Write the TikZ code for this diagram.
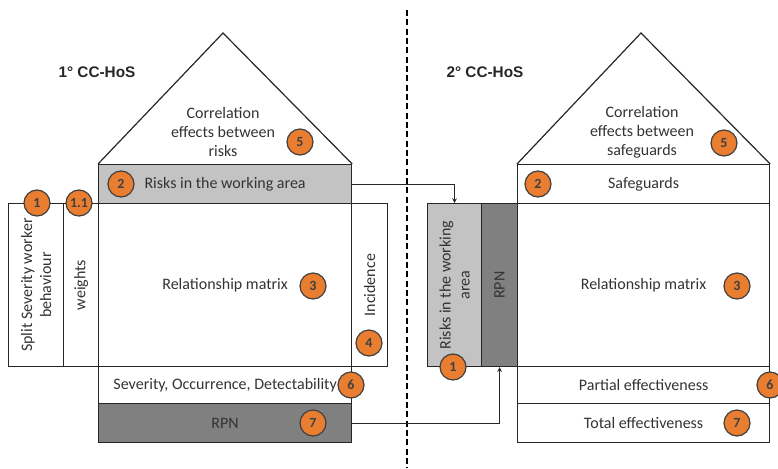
\documentclass[tikz,border=0pt]{standalone}
\usepackage{fontspec}
\setmainfont{Carlito}
\newfontfamily\titlefont{Liberation Sans}
\usepackage{tikz}
\usetikzlibrary{arrows,positioning}
\usetikzlibrary{calc}

\definecolor{riskgray}{RGB}{195,195,195}
\definecolor{rpngray}{RGB}{128,128,128}
\definecolor{badgeorange}{RGB}{233,125,48}

\begin{document}
\begin{tikzpicture}[x=0.75pt,y=-0.75pt,
  txt/.style={font=\fontsize{12}{14.3}\selectfont, text=black!80},
  cell/.style 2 args={draw=black!85, line width=0.9pt, inner sep=0pt, anchor=north west,
    minimum width=#1*0.75pt, minimum height=#2*0.75pt, txt},
  badge/.style={circle, draw=black!75, line width=0.9pt, fill=badgeorange, minimum size=19.5pt,
    inner sep=0pt, font=\fontsize{10.5}{12}\selectfont\bfseries, text=black!75},
  title/.style={font=\titlefont\fontsize{11.5}{13}\selectfont\bfseries, text=black!85}]
\useasboundingbox (0,0) rectangle (778,468);

\draw[dashed, dash pattern=on 4.5pt off 2.5pt, line width=0.9pt] (407,10) -- (407,468);

\node[cell={55}{163}] (split1) at (8,203) {};
\node[cell={35}{163}] (weights1) at (63,203) {};
\node[cell={253}{163}] (matrix1) at (98,203) {Relationship matrix};
\node[cell={36}{163}] (incid1) at (351,203) {};
\node[cell={253}{39}, fill=riskgray] (risks1) at (98,164) {Risks in the working area};
\node[cell={253}{37}] (sod1) at (98,366) {Severity, Occurrence, Detectability};
\node[cell={253}{39}, fill=rpngray] (rpn1) at (98,403) {RPN};
\coordinate (apex1) at (223,33);
\draw[line width=0.9pt, black!85] (risks1.north west) -- (apex1) -- (risks1.north east);
\node[txt, rotate=90, align=center] (splittext) at (split1.center) {Split Severity worker\\behaviour};
\node[txt, rotate=90] (weightstext) at (weights1.center) {weights};
\node[txt, rotate=90] (incidtext) at (incid1.center) {Incidence};
\node[txt, align=center] (corr1) at (223,132) {Correlation\\effects between\\risks};
\node[title] (title1) at (97,72) {1° CC-HoS};

\node[badge] (b1a) at (37,203) {1};
\node[badge] (b11) at (79,203) {1.1};
\node[badge] (b2a) at (121,184) {2};
\node[badge] (b5a) at (300,142) {5};
\node[badge] (b3a) at (313,286) {3};
\node[badge] (b4a) at (369,343) {4};
\node[badge] (b6a) at (351,385) {6};
\node[badge] (b7a) at (313,423) {7};

\node[cell={54}{163}, fill=riskgray] (riskcol2) at (427,203) {};
\node[cell={36}{163}, fill=rpngray] (rpncol2) at (481,203) {};
\node[cell={252}{163}] (matrix2) at (517,203) {Relationship matrix};
\node[cell={252}{39}] (safe2) at (517,164) {Safeguards};
\node[cell={252}{37}] (partial2) at (517,366) {Partial effectiveness};
\node[cell={252}{39}] (total2) at (517,403) {Total effectiveness};
\coordinate (apex2) at (641,33);
\draw[line width=0.9pt, black!85] (safe2.north west) -- (apex2) -- (safe2.north east);
\node[txt, rotate=90, align=center] (riskstext2) at (riskcol2.center) {Risks in the working\\area};
\node[txt, rotate=90] (rpntext2) at (rpncol2.center) {RPN};
\node[txt, align=center] (corr2) at (642,132) {Correlation\\effects between\\safeguards};
\node[title] (title2) at (485,72) {2° CC-HoS};

\node[badge] (b1b) at (453,367) {1};
\node[badge] (b2b) at (538,184) {2};
\node[badge] (b5b) at (724,143) {5};
\node[badge] (b3b) at (737,286) {3};
\node[badge] (b6b) at (770,385) {6};
\node[badge] (b7b) at (737,423) {7};

\draw[-stealth, line width=0.6pt, black!85] (risks1.east) -| (riskcol2.north);
\draw[-stealth, line width=0.6pt, black!85] (rpn1.east) -| (rpncol2.south);
\end{tikzpicture}
\end{document}
